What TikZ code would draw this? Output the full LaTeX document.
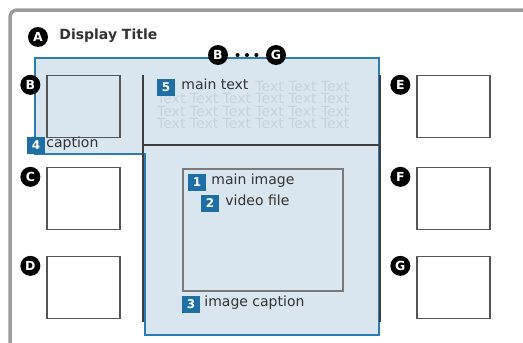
\documentclass[tikz,border=0pt]{standalone}
\usepackage{fontspec}
\setmainfont{DejaVu Sans}
\usetikzlibrary{positioning,decorations.markings}

\definecolor{regionfill}{HTML}{D9E5EF}
\definecolor{regionline}{HTML}{2B7CB6}
\definecolor{numblue}{HTML}{1F6FA6}
\definecolor{framegray}{HTML}{9B9B9B}
\definecolor{darkline}{HTML}{3F3F3F}
\definecolor{boxline}{HTML}{555555}
\definecolor{imgline}{HTML}{7A7A7A}
\definecolor{fillertext}{HTML}{C8D2DB}
\definecolor{labeltext}{HTML}{333333}

\begin{document}
\begin{tikzpicture}[x=1pt,y=-1pt,
  badge/.style={circle,fill=black,text=white,inner sep=0pt,minimum size=20pt,
    font=\fontsize{12.5}{12.5}\selectfont\bfseries},
  numbox/.style={fill=numblue,text=white,inner sep=0pt,minimum width=18pt,
    minimum height=17pt,font=\fontsize{12}{12}\selectfont\bfseries},
  thumb/.style={draw=boxline,line width=1.3pt,minimum width=73pt,
    minimum height=62pt,inner sep=0pt},
  lbl/.style={text=labeltext,inner sep=1pt,text height=0.75em,text depth=0.25em,
    font=\fontsize{14}{14}\selectfont},
  filler/.style={text=fillertext,inner sep=0pt,anchor=west,
    font=\fontsize{14}{14}\selectfont},
  dotlink/.style={decoration={markings,
      mark=at position 0.25 with {\fill (0,0) circle (2pt);},
      mark=at position 0.5 with {\fill (0,0) circle (2pt);},
      mark=at position 0.75 with {\fill (0,0) circle (2pt);}},decorate}]
  \useasboundingbox (0,0) rectangle (523,343);

  % page frame and story region
  \draw[framegray,line width=3.5pt,rounded corners=7pt] (10,346) -- (10,10) -- (526,10);
  \draw[regionline,fill=regionfill,line width=1.5pt]
    (35,58) -- (379,58) -- (379,335) -- (145,335) -- (145,154) -- (35,154) -- cycle;
  \draw[darkline,line width=1.5pt] (143,75) -- (143,322) (380,75) -- (380,322)
    (143,145) -- (380,145);

  \node[filler] at (157,86) {\phantom{Text Text Text }Text Text Text};
  \foreach \row in {98.5,111,123.5}
    \node[filler] at (157,\row) {Text Text Text Text Text Text};

  % thumbnails with their badges
  \foreach \tag/\x/\y in {B/83.5/106.5,C/83.5/198.5,D/83.5/287.5,
                          E/453.5/106.5,F/453.5/198.5,G/453.5/287.5}
  {
    \node[thumb] (th\tag) at (\x,\y) {};
    \node[badge] (b\tag) at ([shift={(-16,10)}]th\tag.north west) {\tag};
  }

  \node[draw=imgline,line width=1.2pt,minimum width=160pt,minimum height=122pt,
    inner sep=0pt] (mainimg) at (263,230) {};

  \node[numbox] (n5) at (166,87) {5};
  \node[lbl,right=5pt of n5] {main text};
  \node[numbox] (n4) at (36,145) {4};
  \node[lbl,right=0pt of n4] {caption};
  \node[numbox] (n1) at (197,182) {1};
  \node[lbl,right=4pt of n1] {main image};
  \node[numbox] (n2) at (210,203) {2};
  \node[lbl,right=5pt of n2] {video file};
  \node[numbox] (n3) at (191,304) {3};
  \node[lbl,right=3pt of n3] {image caption};

  \node[badge] (bA) at (38,37) {A};
  \node[lbl,font=\fontsize{14}{14}\selectfont\bfseries,right=10pt of bA] {Display Title};

  \node[badge] (bTop) at (218,55) {B};
  \node[badge] (gTop) at (276,55) {G};
  \path[dotlink] (bTop) -- (gTop);
\end{tikzpicture}
\end{document}
